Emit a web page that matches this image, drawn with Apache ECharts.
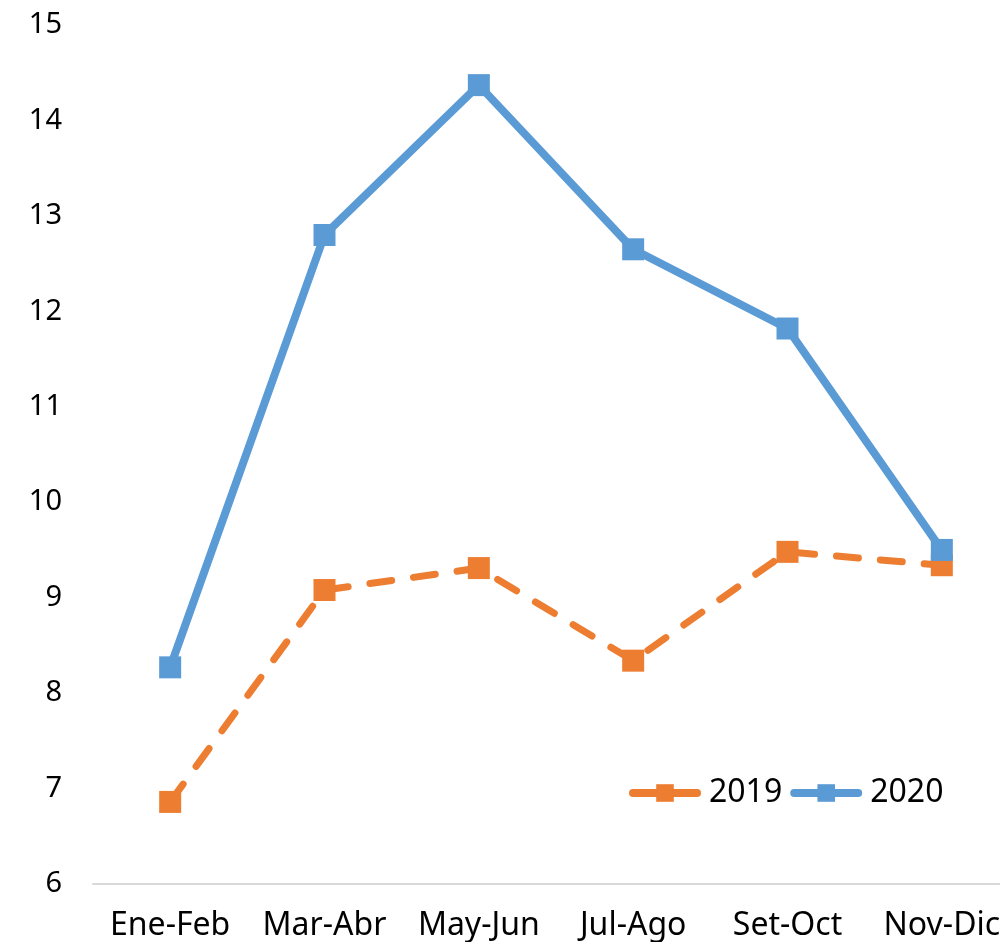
<!DOCTYPE html>
<html style="height: 100%">
<head>
  <meta charset="utf-8">
  <script src="https://cdn.jsdelivr.net/npm/echarts@6/dist/echarts.min.js"></script>
</head>
<body style="height: 100%; margin: 0; background: #fff; overflow: hidden">
  <!-- chart is a bit wider than the window: last label is cut like the original -->
  <div id="container" style="width: 1019px; height: 942px"></div>
  <script>
    var categories = ['Ene-Feb', 'Mar-Abr', 'May-Jun', 'Jul-Ago', 'Set-Oct', 'Nov-Dic'];
    var data2019 = [6.86, 9.08, 9.31, 8.34, 9.48, 9.34];
    var data2020 = [8.27, 12.80, 14.37, 12.65, 11.82, 9.50];

    var chart = echarts.init(document.getElementById('container'));
    var font = '"Noto Sans", sans-serif';

    var option = {
      animation: false,
      textStyle: { fontFamily: font },
      grid: { left: 93, top: 25, width: 926, height: 859, containLabel: false },
      legend: {
        left: 624,
        top: 772,
        itemWidth: 64,
        itemHeight: 22,
        itemGap: 8,
        textStyle: { fontSize: 32, color: '#000', fontFamily: font, padding: [0, 0, 0, 7] },
        data: [
          { name: '2019', lineStyle: { width: 8, type: 'solid', cap: 'round' } },
          { name: '2020', lineStyle: { width: 8, type: 'solid', cap: 'round' } }
        ]
      },
      xAxis: {
        type: 'category',
        data: categories,
        boundaryGap: true,
        axisLine: { lineStyle: { color: '#d9d9d9', width: 2 } },
        axisTick: { show: false },
        axisLabel: { color: '#000', fontSize: 32, margin: 26, interval: 0 }
      },
      yAxis: {
        type: 'value',
        min: 6,
        max: 15,
        interval: 1,
        axisLine: { show: false },
        axisTick: { show: false },
        splitLine: { show: false },
        axisLabel: { color: '#000', fontSize: 29, margin: 31 }
      },
      series: [
        {
          name: '2019',
          type: 'line',
          data: data2019,
          symbol: 'rect',
          symbolSize: 22,
          color: '#ED7D31',
          lineStyle: { width: 7, type: [22, 22], cap: 'round', color: '#ED7D31' },
          itemStyle: { color: '#ED7D31' }
        },
        {
          name: '2020',
          type: 'line',
          data: data2020,
          symbol: 'rect',
          symbolSize: 22,
          color: '#5B9BD5',
          lineStyle: { width: 8, cap: 'round', color: '#5B9BD5' },
          itemStyle: { color: '#5B9BD5' }
        }
      ]
    };
    chart.setOption(option);
  </script>
</body>
</html>
